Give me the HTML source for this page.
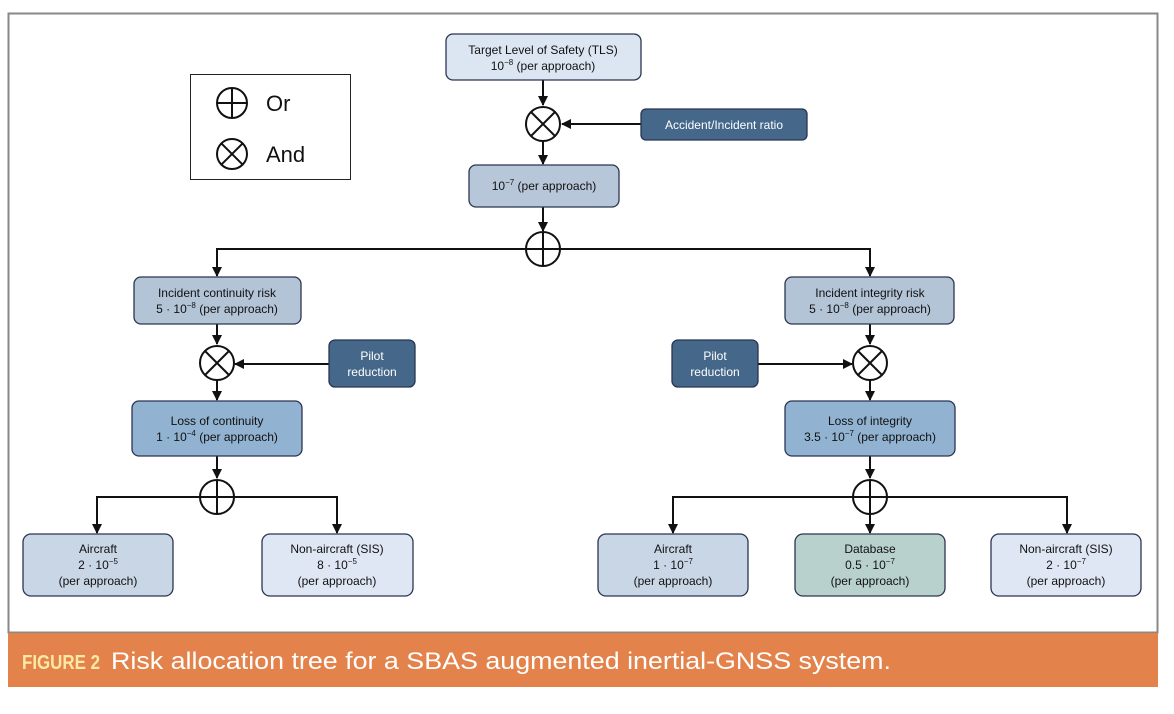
<!DOCTYPE html>
<html><head><meta charset="utf-8"><style>
body{margin:0;background:#fff;width:1174px;height:714px;overflow:hidden;font-family:"Liberation Sans",sans-serif}
svg{position:absolute;left:0;top:0}
text{font-family:"Liberation Sans",sans-serif;font-size:12px;fill:#111;text-anchor:middle}
.w{fill:#fff}
</style></head><body>
<svg width="1174" height="714" viewBox="0 0 1174 714">
<defs><marker id="a" markerWidth="10" markerHeight="10" refX="9" refY="5" orient="auto" markerUnits="userSpaceOnUse"><path d="M0,0 L10,5 L0,10 z" fill="#111"/></marker></defs>
<rect x="8.5" y="13.5" width="1149" height="619" fill="#fff" stroke="#888" stroke-width="2"/>
<rect x="8" y="633" width="1150" height="54" fill="#e3824a"/>
<text x="22" y="669" style="font-size:20px;fill:#fde9a6;text-anchor:start;font-weight:bold" textLength="78" lengthAdjust="spacingAndGlyphs">FIGURE 2</text>
<text x="111" y="669" style="font-size:24px;fill:#fff;text-anchor:start" textLength="780" lengthAdjust="spacingAndGlyphs">Risk allocation tree for a SBAS augmented inertial-GNSS system.</text>

<!-- legend -->
<rect x="190.5" y="74.5" width="160" height="105" fill="#fff" stroke="#222"/>
<g stroke="#111" stroke-width="2" fill="none">
<circle cx="232" cy="103" r="15"/><path d="M217,103h30M232,88v30"/>
<circle cx="232" cy="154" r="15"/><path d="M221.4,143.4l21.2,21.2M242.6,143.4l-21.2,21.2"/>
</g>
<text x="266" y="111" style="font-size:22px;text-anchor:start">Or</text>
<text x="266" y="162" style="font-size:22px;text-anchor:start">And</text>

<!-- connectors -->
<g stroke="#111" stroke-width="2" fill="none">
<path d="M543,80V105" marker-end="url(#a)"/>
<path d="M641,124H562" marker-end="url(#a)"/>
<path d="M543,141V164" marker-end="url(#a)"/>
<path d="M543,207V231" marker-end="url(#a)"/>
<path d="M526,249H217V276" marker-end="url(#a)"/>
<path d="M560,249H870V276" marker-end="url(#a)"/>
<path d="M217,324V344" marker-end="url(#a)"/>
<path d="M329,364H235" marker-end="url(#a)"/>
<path d="M217,380V400" marker-end="url(#a)"/>
<path d="M217,456V478" marker-end="url(#a)"/>
<path d="M200,497H97V533" marker-end="url(#a)"/>
<path d="M234,497H337V533" marker-end="url(#a)"/>
<path d="M870,324V344" marker-end="url(#a)"/>
<path d="M758,364H852" marker-end="url(#a)"/>
<path d="M870,380V400" marker-end="url(#a)"/>
<path d="M870,456V478" marker-end="url(#a)"/>
<path d="M853,497H673V533" marker-end="url(#a)"/>
<path d="M887,497H1067V533" marker-end="url(#a)"/>
<path d="M870,514V533" marker-end="url(#a)"/>
</g>
<!-- gates -->
<g stroke="#111" stroke-width="2" fill="#fff">
<circle cx="543" cy="124" r="17"/><path d="M531,112l24,24M555,112l-24,24"/>
<circle cx="543" cy="249" r="17"/><path d="M526,249h34M543,232v34"/>
<circle cx="217" cy="363" r="17"/><path d="M205,351l24,24M229,351l-24,24"/>
<circle cx="870" cy="363" r="17"/><path d="M858,351l24,24M882,351l-24,24"/>
<circle cx="217" cy="497" r="17"/><path d="M200,497h34M217,480v34"/>
<circle cx="870" cy="497" r="17"/><path d="M853,497h34M870,480v34"/>
</g>

<!-- boxes -->
<g stroke="#2a3550" stroke-width="1.3">
<rect x="446" y="34" width="195" height="46" rx="7" fill="#dce6f2"/>
<rect x="641" y="109" width="166" height="31" rx="5" fill="#44678a"/>
<rect x="469" y="165" width="150" height="42" rx="7" fill="#b7c7d9"/>
<rect x="134" y="277" width="167" height="47" rx="7" fill="#b4c4d7"/>
<rect x="785" y="277" width="169" height="47" rx="7" fill="#b4c4d7"/>
<rect x="329" y="340" width="86" height="47" rx="6" fill="#44678a"/>
<rect x="672" y="340" width="86" height="47" rx="6" fill="#44678a"/>
<rect x="132" y="401" width="170" height="55" rx="7" fill="#91b2d0"/>
<rect x="785" y="401" width="170" height="55" rx="7" fill="#91b2d0"/>
<rect x="23" y="534" width="150" height="62" rx="8" fill="#c9d6e6"/>
<rect x="262" y="534" width="151" height="62" rx="8" fill="#e0e7f4"/>
<rect x="598" y="534" width="150" height="62" rx="8" fill="#c9d6e6"/>
<rect x="795" y="534" width="150" height="62" rx="8" fill="#b8d1cd"/>
<rect x="991" y="534" width="150" height="62" rx="8" fill="#e0e7f4"/>
</g>
<text x="543" y="54">Target Level of Safety (TLS)</text>
<text x="543" y="70">10<tspan dy="-5" font-size="8">−8</tspan><tspan dy="5"> (per approach)</tspan></text>
<text x="724" y="129" class="w">Accident/Incident ratio</text>
<text x="544" y="190">10<tspan dy="-5" font-size="8">−7</tspan><tspan dy="5"> (per approach)</tspan></text>
<text x="217" y="297">Incident continuity risk</text>
<text x="217" y="313">5 · 10<tspan dy="-5" font-size="8">−8</tspan><tspan dy="5"> (per approach)</tspan></text>
<text x="870" y="297">Incident integrity risk</text>
<text x="870" y="313">5 · 10<tspan dy="-5" font-size="8">−8</tspan><tspan dy="5"> (per approach)</tspan></text>
<text x="372" y="360" class="w">Pilot</text><text x="372" y="376" class="w">reduction</text>
<text x="715" y="360" class="w">Pilot</text><text x="715" y="376" class="w">reduction</text>
<text x="217" y="425">Loss of continuity</text>
<text x="217" y="441">1 · 10<tspan dy="-5" font-size="8">−4</tspan><tspan dy="5"> (per approach)</tspan></text>
<text x="870" y="425">Loss of integrity</text>
<text x="870" y="441">3.5 · 10<tspan dy="-5" font-size="8">−7</tspan><tspan dy="5"> (per approach)</tspan></text>
<g>
<text x="98" y="553">Aircraft</text><text x="98" y="569">2 · 10<tspan dy="-5" font-size="8">−5</tspan></text><text x="98" y="585">(per approach)</text>
<text x="337" y="553">Non-aircraft (SIS)</text><text x="337" y="569">8 · 10<tspan dy="-5" font-size="8">−5</tspan></text><text x="337" y="585">(per approach)</text>
<text x="673" y="553">Aircraft</text><text x="673" y="569">1 · 10<tspan dy="-5" font-size="8">−7</tspan></text><text x="673" y="585">(per approach)</text>
<text x="870" y="553">Database</text><text x="870" y="569">0.5 · 10<tspan dy="-5" font-size="8">−7</tspan></text><text x="870" y="585">(per approach)</text>
<text x="1066" y="553">Non-aircraft (SIS)</text><text x="1066" y="569">2 · 10<tspan dy="-5" font-size="8">−7</tspan></text><text x="1066" y="585">(per approach)</text>
</g>
</svg>
</body></html>
